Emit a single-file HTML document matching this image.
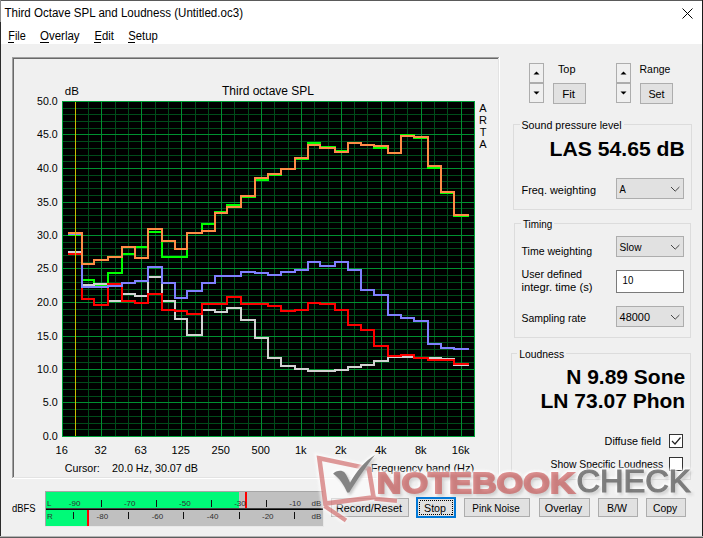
<!DOCTYPE html>
<html><head><meta charset="utf-8"><title>Third Octave SPL and Loudness</title>
<style>
html,body{margin:0;padding:0;background:#f0f0f0;overflow:hidden}
body{width:703px;height:538px;font-family:"Liberation Sans",sans-serif}
svg{display:block;position:absolute;left:0;top:0;font-family:"Liberation Sans",sans-serif}
svg rect{shape-rendering:crispEdges}
</style></head><body>
<svg width="703" height="538" viewBox="0 0 703 538" font-family="Liberation Sans, sans-serif">
<rect x="0" y="0" width="703" height="538" fill="#f0f0f0" />
<rect x="0" y="0" width="703" height="44" fill="#ffffff" />
<rect x="0" y="0" width="703" height="1" fill="#5a5a5a" />
<rect x="0" y="0" width="1" height="22" fill="#8a8a8a" />
<rect x="0" y="22" width="1" height="516" fill="#2b2b2b" />
<rect x="702" y="0" width="1" height="538" fill="#1a1a1a" />
<rect x="0" y="537" width="703" height="1" fill="#5c5c5c" />
<rect x="0" y="536" width="703" height="1" fill="#b4b4b4" />
<text x="4.4" y="17" font-size="12" textLength="238.6" lengthAdjust="spacingAndGlyphs" fill="#000" >Third Octave SPL and Loudness (Untitled.oc3)</text>
<path d="M682.5 8.5 L692.5 18.5 M692.5 8.5 L682.5 18.5" stroke="#000" stroke-width="1" fill="none"/>
<text x="8.3" y="40" font-size="12" textLength="17.5" lengthAdjust="spacingAndGlyphs" fill="#000" >File</text>
<rect x="8.3" y="41.5" width="5.7" height="1" fill="#000" />
<text x="40" y="40" font-size="12" textLength="39.6" lengthAdjust="spacingAndGlyphs" fill="#000" >Overlay</text>
<rect x="40" y="41.5" width="9" height="1" fill="#000" />
<text x="94.4" y="40" font-size="12" textLength="19.5" lengthAdjust="spacingAndGlyphs" fill="#000" >Edit</text>
<rect x="94.4" y="41.5" width="6.1" height="1" fill="#000" />
<text x="128.2" y="40" font-size="12" textLength="29.5" lengthAdjust="spacingAndGlyphs" fill="#000" >Setup</text>
<rect x="128.2" y="41.5" width="7.0" height="1" fill="#000" />
<rect x="12" y="57" width="487" height="1" fill="#a0a0a0" />
<rect x="12" y="57" width="1" height="421" fill="#a0a0a0" />
<rect x="13" y="58" width="485" height="1" fill="#696969" />
<rect x="13" y="58" width="1" height="419" fill="#696969" />
<rect x="12" y="478" width="488" height="1" fill="#ffffff" />
<rect x="499" y="57" width="1" height="422" fill="#ffffff" />
<rect x="13" y="477" width="486" height="1" fill="#e3e3e3" />
<rect x="498" y="58" width="1" height="420" fill="#e3e3e3" />
<rect x="62" y="101" width="413" height="336" fill="#000" />
<rect x="62" y="429" width="413" height="1" fill="#004c1a" />
<rect x="62" y="423" width="413" height="1" fill="#004c1a" />
<rect x="62" y="416" width="413" height="1" fill="#004c1a" />
<rect x="62" y="409" width="413" height="1" fill="#004c1a" />
<rect x="62" y="396" width="413" height="1" fill="#004c1a" />
<rect x="62" y="389" width="413" height="1" fill="#004c1a" />
<rect x="62" y="382" width="413" height="1" fill="#004c1a" />
<rect x="62" y="376" width="413" height="1" fill="#004c1a" />
<rect x="62" y="362" width="413" height="1" fill="#004c1a" />
<rect x="62" y="356" width="413" height="1" fill="#004c1a" />
<rect x="62" y="349" width="413" height="1" fill="#004c1a" />
<rect x="62" y="342" width="413" height="1" fill="#004c1a" />
<rect x="62" y="329" width="413" height="1" fill="#004c1a" />
<rect x="62" y="322" width="413" height="1" fill="#004c1a" />
<rect x="62" y="315" width="413" height="1" fill="#004c1a" />
<rect x="62" y="309" width="413" height="1" fill="#004c1a" />
<rect x="62" y="295" width="413" height="1" fill="#004c1a" />
<rect x="62" y="289" width="413" height="1" fill="#004c1a" />
<rect x="62" y="282" width="413" height="1" fill="#004c1a" />
<rect x="62" y="275" width="413" height="1" fill="#004c1a" />
<rect x="62" y="262" width="413" height="1" fill="#004c1a" />
<rect x="62" y="255" width="413" height="1" fill="#004c1a" />
<rect x="62" y="248" width="413" height="1" fill="#004c1a" />
<rect x="62" y="242" width="413" height="1" fill="#004c1a" />
<rect x="62" y="228" width="413" height="1" fill="#004c1a" />
<rect x="62" y="222" width="413" height="1" fill="#004c1a" />
<rect x="62" y="215" width="413" height="1" fill="#004c1a" />
<rect x="62" y="208" width="413" height="1" fill="#004c1a" />
<rect x="62" y="195" width="413" height="1" fill="#004c1a" />
<rect x="62" y="188" width="413" height="1" fill="#004c1a" />
<rect x="62" y="181" width="413" height="1" fill="#004c1a" />
<rect x="62" y="175" width="413" height="1" fill="#004c1a" />
<rect x="62" y="161" width="413" height="1" fill="#004c1a" />
<rect x="62" y="155" width="413" height="1" fill="#004c1a" />
<rect x="62" y="148" width="413" height="1" fill="#004c1a" />
<rect x="62" y="141" width="413" height="1" fill="#004c1a" />
<rect x="62" y="128" width="413" height="1" fill="#004c1a" />
<rect x="62" y="121" width="413" height="1" fill="#004c1a" />
<rect x="62" y="114" width="413" height="1" fill="#004c1a" />
<rect x="62" y="108" width="413" height="1" fill="#004c1a" />
<rect x="75" y="101" width="1" height="336" fill="#004c1a" />
<rect x="88" y="101" width="1" height="336" fill="#004c1a" />
<rect x="115" y="101" width="1" height="336" fill="#004c1a" />
<rect x="128" y="101" width="1" height="336" fill="#004c1a" />
<rect x="155" y="101" width="1" height="336" fill="#004c1a" />
<rect x="168" y="101" width="1" height="336" fill="#004c1a" />
<rect x="195" y="101" width="1" height="336" fill="#004c1a" />
<rect x="208" y="101" width="1" height="336" fill="#004c1a" />
<rect x="234" y="101" width="1" height="336" fill="#004c1a" />
<rect x="248" y="101" width="1" height="336" fill="#004c1a" />
<rect x="274" y="101" width="1" height="336" fill="#004c1a" />
<rect x="288" y="101" width="1" height="336" fill="#004c1a" />
<rect x="314" y="101" width="1" height="336" fill="#004c1a" />
<rect x="328" y="101" width="1" height="336" fill="#004c1a" />
<rect x="354" y="101" width="1" height="336" fill="#004c1a" />
<rect x="367" y="101" width="1" height="336" fill="#004c1a" />
<rect x="394" y="101" width="1" height="336" fill="#004c1a" />
<rect x="407" y="101" width="1" height="336" fill="#004c1a" />
<rect x="434" y="101" width="1" height="336" fill="#004c1a" />
<rect x="447" y="101" width="1" height="336" fill="#004c1a" />
<rect x="62" y="436" width="413" height="1" fill="#009030" />
<rect x="62" y="402" width="413" height="1" fill="#009030" />
<rect x="62" y="369" width="413" height="1" fill="#009030" />
<rect x="62" y="336" width="413" height="1" fill="#009030" />
<rect x="62" y="302" width="413" height="1" fill="#009030" />
<rect x="62" y="268" width="413" height="1" fill="#009030" />
<rect x="62" y="235" width="413" height="1" fill="#009030" />
<rect x="62" y="202" width="413" height="1" fill="#009030" />
<rect x="62" y="168" width="413" height="1" fill="#009030" />
<rect x="62" y="134" width="413" height="1" fill="#009030" />
<rect x="62" y="101" width="413" height="1" fill="#009030" />
<rect x="101" y="101" width="1" height="336" fill="#009030" />
<rect x="141" y="101" width="1" height="336" fill="#009030" />
<rect x="181" y="101" width="1" height="336" fill="#009030" />
<rect x="221" y="101" width="1" height="336" fill="#009030" />
<rect x="261" y="101" width="1" height="336" fill="#009030" />
<rect x="301" y="101" width="1" height="336" fill="#009030" />
<rect x="341" y="101" width="1" height="336" fill="#009030" />
<rect x="381" y="101" width="1" height="336" fill="#009030" />
<rect x="421" y="101" width="1" height="336" fill="#009030" />
<rect x="461" y="101" width="1" height="336" fill="#009030" />
<rect x="62" y="101" width="413" height="1" fill="#00a038" />
<rect x="62" y="436" width="413" height="1" fill="#00a038" />
<rect x="62" y="101" width="1" height="336" fill="#00a038" />
<rect x="474" y="101" width="1" height="336" fill="#00a038" />
<path d="M68 235 L82 235 L82 280 L94 280 L94 285 L108 285 L108 273 L122 273 L122 254 L135 254 L135 247 L148 247 L148 232 L162 232 L162 257 L175 257 L175 257 L187 257 L187 233 L202 233 L202 224 L215 224 L215 212 L227 212 L227 205 L241 205 L241 197 L255 197 L255 180 L268 180 L268 175 L281 175 L281 169 L295 169 L295 159 L308 159 L308 143 L320 143 L320 147 L335 147 L335 151 L348 151 L348 143 L361 143 L361 145 L374 145 L374 148 L388 148 L388 153 L401 153 L401 135 L414 135 L414 138 L428 138 L428 168 L441 168 L441 193 L454 193 L454 216 L469 216" fill="none" stroke="#00ff00" stroke-width="2" stroke-linejoin="miter" stroke-linecap="butt" shape-rendering="crispEdges"/>
<path d="M68 252 L82 252 L82 285 L94 285 L94 284 L108 284 L108 301 L122 301 L122 294 L135 294 L135 296 L148 296 L148 277 L162 277 L162 301 L175 301 L175 319 L187 319 L187 335 L202 335 L202 310 L215 310 L215 312 L227 312 L227 308 L241 308 L241 320 L255 320 L255 338 L268 338 L268 358 L281 358 L281 366 L295 366 L295 369 L308 369 L308 371 L320 371 L320 371 L335 371 L335 370 L348 370 L348 367 L361 367 L361 365 L374 365 L374 361 L388 361 L388 357 L401 357 L401 357 L414 357 L414 358 L428 358 L428 358 L441 358 L441 359 L454 359 L454 365 L469 365" fill="none" stroke="#d2d2d2" stroke-width="2" stroke-linejoin="miter" stroke-linecap="butt" shape-rendering="crispEdges"/>
<path d="M68 254 L82 254 L82 299 L94 299 L94 305 L108 305 L108 284 L122 284 L122 301 L135 301 L135 303 L148 303 L148 294 L162 294 L162 310 L175 310 L175 311 L187 311 L187 314 L202 314 L202 304 L215 304 L215 304 L227 304 L227 297 L241 297 L241 304 L255 304 L255 304 L268 304 L268 306 L281 306 L281 311 L295 311 L295 310 L308 310 L308 303 L320 303 L320 304 L335 304 L335 310 L348 310 L348 325 L361 325 L361 330 L374 330 L374 346 L388 346 L388 356 L401 356 L401 355 L414 355 L414 358 L428 358 L428 360 L441 360 L441 360 L454 360 L454 364 L469 364" fill="none" stroke="#ff0000" stroke-width="2" stroke-linejoin="miter" stroke-linecap="butt" shape-rendering="crispEdges"/>
<path d="M68 234 L82 234 L82 287 L94 287 L94 287 L108 287 L108 286 L122 286 L122 283 L135 283 L135 281 L148 281 L148 267 L162 267 L162 283 L175 283 L175 298 L187 298 L187 291 L202 291 L202 283 L215 283 L215 276 L227 276 L227 276 L241 276 L241 272 L255 272 L255 273 L268 273 L268 275 L281 275 L281 272 L295 272 L295 270 L308 270 L308 262 L320 262 L320 266 L335 266 L335 262 L348 262 L348 270 L361 270 L361 290 L374 290 L374 295 L388 295 L388 315 L401 315 L401 318 L414 318 L414 321 L428 321 L428 344 L441 344 L441 348 L454 348 L454 349 L469 349" fill="none" stroke="#8080ff" stroke-width="2" stroke-linejoin="miter" stroke-linecap="butt" shape-rendering="crispEdges"/>
<path d="M68 233 L82 233 L82 264 L94 264 L94 260 L108 260 L108 257 L122 257 L122 247 L135 247 L135 258 L148 258 L148 229 L162 229 L162 241 L175 241 L175 249 L187 249 L187 233 L202 233 L202 231 L215 231 L215 213 L227 213 L227 207 L241 207 L241 196 L255 196 L255 178 L268 178 L268 174 L281 174 L281 169 L295 169 L295 158 L308 158 L308 145 L320 145 L320 148 L335 148 L335 152 L348 152 L348 143 L361 143 L361 145 L374 145 L374 146 L388 146 L388 153 L401 153 L401 136 L414 136 L414 137 L428 137 L428 166 L441 166 L441 192 L454 192 L454 215 L469 215" fill="none" stroke="#ff8c46" stroke-width="2" stroke-linejoin="miter" stroke-linecap="butt" shape-rendering="crispEdges"/>
<rect x="75" y="102" width="1" height="334" fill="#c8be00" />
<text x="64.8" y="94.7" font-size="11.5" fill="#000" >dB</text>
<text x="268" y="95" font-size="12" text-anchor="middle" fill="#000" >Third octave SPL</text>
<text x="57.7" y="440" font-size="11" text-anchor="end" textLength="15" lengthAdjust="spacingAndGlyphs" fill="#000" >0.0</text>
<text x="57.7" y="406" font-size="11" text-anchor="end" textLength="15" lengthAdjust="spacingAndGlyphs" fill="#000" >5.0</text>
<text x="57.7" y="373" font-size="11" text-anchor="end" textLength="20.6" lengthAdjust="spacingAndGlyphs" fill="#000" >10.0</text>
<text x="57.7" y="340" font-size="11" text-anchor="end" textLength="20.6" lengthAdjust="spacingAndGlyphs" fill="#000" >15.0</text>
<text x="57.7" y="306" font-size="11" text-anchor="end" textLength="20.6" lengthAdjust="spacingAndGlyphs" fill="#000" >20.0</text>
<text x="57.7" y="272" font-size="11" text-anchor="end" textLength="20.6" lengthAdjust="spacingAndGlyphs" fill="#000" >25.0</text>
<text x="57.7" y="239" font-size="11" text-anchor="end" textLength="20.6" lengthAdjust="spacingAndGlyphs" fill="#000" >30.0</text>
<text x="57.7" y="206" font-size="11" text-anchor="end" textLength="20.6" lengthAdjust="spacingAndGlyphs" fill="#000" >35.0</text>
<text x="57.7" y="172" font-size="11" text-anchor="end" textLength="20.6" lengthAdjust="spacingAndGlyphs" fill="#000" >40.0</text>
<text x="57.7" y="138" font-size="11" text-anchor="end" textLength="20.6" lengthAdjust="spacingAndGlyphs" fill="#000" >45.0</text>
<text x="57.7" y="105" font-size="11" text-anchor="end" textLength="20.6" lengthAdjust="spacingAndGlyphs" fill="#000" >50.0</text>
<text x="61.7" y="453.5" font-size="11" text-anchor="middle" fill="#000" >16</text>
<text x="100.7" y="453.5" font-size="11" text-anchor="middle" fill="#000" >32</text>
<text x="140.7" y="453.5" font-size="11" text-anchor="middle" fill="#000" >63</text>
<text x="180.7" y="453.5" font-size="11" text-anchor="middle" fill="#000" >125</text>
<text x="220.7" y="453.5" font-size="11" text-anchor="middle" fill="#000" >250</text>
<text x="260.7" y="453.5" font-size="11" text-anchor="middle" fill="#000" >500</text>
<text x="300.7" y="453.5" font-size="11" text-anchor="middle" fill="#000" >1k</text>
<text x="340.7" y="453.5" font-size="11" text-anchor="middle" fill="#000" >2k</text>
<text x="380.7" y="453.5" font-size="11" text-anchor="middle" fill="#000" >4k</text>
<text x="420.7" y="453.5" font-size="11" text-anchor="middle" fill="#000" >8k</text>
<text x="460.7" y="453.5" font-size="11" text-anchor="middle" fill="#000" >16k</text>
<text x="64.8" y="472" font-size="11" textLength="35" lengthAdjust="spacingAndGlyphs" fill="#000" >Cursor:</text>
<text x="112" y="472" font-size="11" textLength="85.9" lengthAdjust="spacingAndGlyphs" fill="#000" >20.0 Hz, 30.07 dB</text>
<text x="474.2" y="471.5" font-size="11" text-anchor="end" fill="#000" >Frequency band (Hz)</text>
<text x="483" y="111.7" font-size="11" text-anchor="middle" fill="#000" >A</text>
<text x="483" y="123.7" font-size="11" text-anchor="middle" fill="#000" >R</text>
<text x="483" y="135.7" font-size="11" text-anchor="middle" fill="#000" >T</text>
<text x="483" y="147.7" font-size="11" text-anchor="middle" fill="#000" >A</text>
<rect x="529" y="63" width="15" height="20" fill="#adadad" />
<rect x="530" y="64" width="13" height="18" fill="#f0f0f0" />
<path d="M533.5 74.5 L539.5 74.5 L536.5 71.5 Z" fill="#000"/>
<rect x="529" y="83" width="15" height="20" fill="#adadad" />
<rect x="530" y="84" width="13" height="18" fill="#f0f0f0" />
<path d="M533.5 91.5 L539.5 91.5 L536.5 94.5 Z" fill="#000"/>
<rect x="616" y="63" width="15" height="20" fill="#adadad" />
<rect x="617" y="64" width="13" height="18" fill="#f0f0f0" />
<path d="M620.5 74.5 L626.5 74.5 L623.5 71.5 Z" fill="#000"/>
<rect x="616" y="83" width="15" height="20" fill="#adadad" />
<rect x="617" y="84" width="13" height="18" fill="#f0f0f0" />
<path d="M620.5 91.5 L626.5 91.5 L623.5 94.5 Z" fill="#000"/>
<text x="557.9" y="73.4" font-size="11.2" textLength="17.6" lengthAdjust="spacingAndGlyphs" fill="#000" >Top</text>
<text x="639.6" y="73.4" font-size="11.2" textLength="30.7" lengthAdjust="spacingAndGlyphs" fill="#000" >Range</text>
<rect x="553" y="83" width="33" height="21" fill="#adadad" />
<rect x="554" y="84" width="31" height="19" fill="#e1e1e1" />
<text x="568.6" y="98.2" font-size="11.2" text-anchor="middle" textLength="12.9" lengthAdjust="spacingAndGlyphs" fill="#000" >Fit</text>
<rect x="640" y="83" width="33" height="21" fill="#adadad" />
<rect x="641" y="84" width="31" height="19" fill="#e1e1e1" />
<text x="656.5" y="98.2" font-size="11.2" text-anchor="middle" textLength="16.2" lengthAdjust="spacingAndGlyphs" fill="#000" >Set</text>
<rect x="513.5" y="124.5" width="178" height="85" fill="none" stroke="#dcdcdc" stroke-width="1"/>
<rect x="519.5" y="123" width="104.10000000000002" height="3" fill="#f0f0f0" />
<text x="521.5" y="129.1" font-size="11.2" textLength="100.1" lengthAdjust="spacingAndGlyphs" fill="#000" >Sound pressure level</text>
<text x="684.8" y="155.5" font-size="21" text-anchor="end" textLength="135.2" lengthAdjust="spacingAndGlyphs" font-weight="bold" fill="#000" >LAS 54.65 dB</text>
<text x="521.5" y="193.7" font-size="11.2" textLength="74.5" lengthAdjust="spacingAndGlyphs" fill="#000" >Freq. weighting</text>
<rect x="616" y="178" width="68" height="21" fill="#adadad" />
<rect x="617" y="179" width="66" height="19" fill="#e1e1e1" />
<text x="619.6" y="193.0" font-size="11.2" textLength="6.3" lengthAdjust="spacingAndGlyphs" fill="#000" >A</text>
<path d="M671 187 L675.2 191.2 L679.4 187" fill="none" stroke="#444" stroke-width="1"/>
<rect x="514.5" y="223.5" width="176" height="114" fill="none" stroke="#dcdcdc" stroke-width="1"/>
<rect x="520.9" y="222" width="33.30000000000007" height="3" fill="#f0f0f0" />
<text x="522.9" y="228.2" font-size="11.2" textLength="29.3" lengthAdjust="spacingAndGlyphs" fill="#000" >Timing</text>
<text x="521.5" y="254.6" font-size="11.2" textLength="70.5" lengthAdjust="spacingAndGlyphs" fill="#000" >Time weighting</text>
<rect x="616" y="236" width="68" height="21" fill="#adadad" />
<rect x="617" y="237" width="66" height="19" fill="#e1e1e1" />
<text x="619.6" y="251.29999999999998" font-size="11.2" textLength="21.9" lengthAdjust="spacingAndGlyphs" fill="#000" >Slow</text>
<path d="M671 245 L675.2 249.2 L679.4 245" fill="none" stroke="#444" stroke-width="1"/>
<text x="521.5" y="277.7" font-size="11.2" textLength="60.5" lengthAdjust="spacingAndGlyphs" fill="#000" >User defined</text>
<text x="521.5" y="291.1" font-size="11.2" textLength="71" lengthAdjust="spacingAndGlyphs" fill="#000" >integr. time (s)</text>
<rect x="616" y="270" width="68" height="23" fill="#7a7a7a" />
<rect x="617" y="271" width="66" height="21" fill="#fff" />
<text x="622.5" y="284.0" font-size="11.2" textLength="10.8" lengthAdjust="spacingAndGlyphs" fill="#000" >10</text>
<text x="521.5" y="322.1" font-size="11.2" textLength="64.5" lengthAdjust="spacingAndGlyphs" fill="#000" >Sampling rate</text>
<rect x="616" y="306" width="68" height="21" fill="#adadad" />
<rect x="617" y="307" width="66" height="19" fill="#e1e1e1" />
<text x="619.6" y="320.8" font-size="11.2" textLength="30.4" lengthAdjust="spacingAndGlyphs" fill="#000" >48000</text>
<path d="M671 315 L675.2 319.2 L679.4 315" fill="none" stroke="#444" stroke-width="1"/>
<rect x="511.5" y="353.5" width="179" height="126" fill="none" stroke="#dcdcdc" stroke-width="1"/>
<rect x="517.2" y="352" width="49.0" height="3" fill="#f0f0f0" />
<text x="519.2" y="358.20000000000005" font-size="11.2" textLength="45.0" lengthAdjust="spacingAndGlyphs" fill="#000" >Loudness</text>
<text x="685.2" y="384.1" font-size="21" text-anchor="end" font-weight="bold" fill="#000" >N 9.89 Sone</text>
<text x="685.2" y="407.7" font-size="21" text-anchor="end" font-weight="bold" fill="#000" >LN 73.07 Phon</text>
<text x="604.6" y="445.0" font-size="11.2" textLength="56.3" lengthAdjust="spacingAndGlyphs" fill="#000" >Diffuse field</text>
<rect x="669" y="434" width="14" height="14" fill="#333" />
<rect x="670" y="435" width="12" height="12" fill="#fff" />
<path d="M672 441 L675 444 L680.5 437.5" fill="none" stroke="#222" stroke-width="1.2"/>
<text x="550.5" y="468.1" font-size="11.2" textLength="112.7" lengthAdjust="spacingAndGlyphs" fill="#000" >Show Specific Loudness</text>
<rect x="669" y="457" width="14" height="14" fill="#333" />
<rect x="670" y="458" width="12" height="12" fill="#fff" />
<text x="12" y="511.8" font-size="11.2" textLength="23.5" lengthAdjust="spacingAndGlyphs" fill="#000" >dBFS</text>
<rect x="45" y="491" width="279" height="36" fill="#c0c0c0" />
<rect x="45" y="491" width="279" height="1" fill="#a6a6a6" />
<rect x="45" y="491" width="1" height="36" fill="#a6a6a6" />
<rect x="45" y="526" width="279" height="1" fill="#e8e8e8" />
<rect x="323" y="491" width="1" height="36" fill="#e8e8e8" />
<rect x="46" y="492" width="193" height="16" fill="#00fa78" />
<rect x="46" y="510" width="41" height="16" fill="#00fa78" />
<rect x="46" y="508" width="277" height="1" fill="#404040" />
<rect x="46" y="509" width="277" height="1" fill="#000" />
<rect x="245" y="492" width="2" height="16" fill="#ff0000" />
<rect x="87" y="510" width="2" height="16" fill="#ff0000" />
<text x="47" y="506.2" font-size="8" fill="#303030" >L</text>
<text x="47" y="518.7" font-size="8" fill="#303030" >R</text>
<text x="74.57" y="506.2" font-size="8" text-anchor="middle" fill="#303030" >-90</text>
<rect x="73" y="512" width="1" height="7" fill="#111" />
<text x="129.71" y="506.2" font-size="8" text-anchor="middle" fill="#303030" >-70</text>
<rect x="128" y="512" width="1" height="7" fill="#111" />
<text x="184.85000000000002" y="506.2" font-size="8" text-anchor="middle" fill="#303030" >-50</text>
<rect x="183" y="512" width="1" height="7" fill="#111" />
<text x="239.99" y="506.2" font-size="8" text-anchor="middle" fill="#303030" >-30</text>
<rect x="239" y="512" width="1" height="7" fill="#111" />
<text x="295.13" y="506.2" font-size="8" text-anchor="middle" fill="#303030" >-10</text>
<rect x="294" y="512" width="1" height="7" fill="#111" />
<text x="102.34" y="518.7" font-size="8" text-anchor="middle" fill="#303030" >-80</text>
<rect x="101" y="500" width="1" height="7" fill="#111" />
<text x="157.48" y="518.7" font-size="8" text-anchor="middle" fill="#303030" >-60</text>
<rect x="156" y="500" width="1" height="7" fill="#111" />
<text x="212.62" y="518.7" font-size="8" text-anchor="middle" fill="#303030" >-40</text>
<rect x="211" y="500" width="1" height="7" fill="#111" />
<text x="267.76000000000005" y="518.7" font-size="8" text-anchor="middle" fill="#303030" >-20</text>
<rect x="266" y="500" width="1" height="7" fill="#111" />
<text x="316.5" y="506.2" font-size="8" text-anchor="middle" fill="#303030" >dB</text>
<text x="316.5" y="518.7" font-size="8" text-anchor="middle" fill="#303030" >dB</text>
<rect x="331" y="498" width="78" height="19" fill="#adadad" />
<rect x="332" y="499" width="76" height="17" fill="#e1e1e1" />
<text x="369.0" y="511.59999999999997" font-size="11.2" text-anchor="middle" textLength="66" lengthAdjust="spacingAndGlyphs" fill="#000" >Record/Reset</text>
<rect x="416" y="497" width="40" height="21" fill="#0078d7" />
<rect x="418" y="499" width="36" height="17" fill="#e1e1e1" />
<rect x="419.5" y="500.5" width="33" height="14" fill="none" stroke="#000" stroke-width="1" stroke-dasharray="1 1" shape-rendering="crispEdges"/>
<text x="435.0" y="511.59999999999997" font-size="11.2" text-anchor="middle" textLength="22" lengthAdjust="spacingAndGlyphs" fill="#000" >Stop</text>
<rect x="464" y="498" width="66" height="19" fill="#adadad" />
<rect x="465" y="499" width="64" height="17" fill="#e1e1e1" />
<text x="496.0" y="511.59999999999997" font-size="11.2" text-anchor="middle" textLength="47.3" lengthAdjust="spacingAndGlyphs" fill="#000" >Pink Noise</text>
<rect x="539" y="498" width="51" height="19" fill="#adadad" />
<rect x="540" y="499" width="49" height="17" fill="#e1e1e1" />
<text x="563.5" y="511.59999999999997" font-size="11.2" text-anchor="middle" textLength="37.3" lengthAdjust="spacingAndGlyphs" fill="#000" >Overlay</text>
<rect x="598" y="498" width="40" height="19" fill="#adadad" />
<rect x="599" y="499" width="38" height="17" fill="#e1e1e1" />
<text x="617.0" y="511.59999999999997" font-size="11.2" text-anchor="middle" textLength="20" lengthAdjust="spacingAndGlyphs" fill="#000" >B/W</text>
<rect x="646" y="498" width="40" height="19" fill="#adadad" />
<rect x="647" y="499" width="38" height="17" fill="#e1e1e1" />
<text x="665.0" y="511.59999999999997" font-size="11.2" text-anchor="middle" textLength="24.2" lengthAdjust="spacingAndGlyphs" fill="#000" >Copy</text>
<defs><filter id="glow" x="-10%" y="-40%" width="120%" height="180%"><feGaussianBlur stdDeviation="1.1"/></filter><filter id="shd" x="-10%" y="-40%" width="120%" height="180%"><feGaussianBlur stdDeviation="1.4"/></filter></defs>
<g opacity="0.55" filter="url(#glow)"><path d="M319.3 458.3 L368.8 468.6 L373.6 497.3 L325.4 503.6 Z" fill="#fff" stroke="#fff" stroke-width="9" stroke-linejoin="miter"/><path d="M324.5 506 L346 520.5 M374.5 498.6 L397 500.8" stroke="#fff" stroke-width="8" fill="none"/></g>
<g opacity="0.55"><path d="M319.3 458.3 L368.8 468.6 L373.6 497.3 L325.4 503.6 Z" fill="none" stroke="#c84a4a" stroke-width="4.6" stroke-linejoin="miter"/><path d="M324.5 506 L346 520.5 M374.5 498.6 L397 500.8" stroke="#c84a4a" stroke-width="4.2" fill="none"/></g>
<path d="M333.1 473.7 C335.5 471 341.5 469.3 344.6 472.6 C346.8 475.5 348.6 479.5 350 482.8 C356 472 365 461 374.9 455 C366.5 466 357 480 349.2 492.6 L347.2 492.6 C344 485 339.5 478 333.1 473.7 Z" fill="#fff" stroke="#fff" stroke-width="3.5" opacity="0.8" filter="url(#glow)"/>
<path d="M333.1 473.7 C335.5 471 341.5 469.3 344.6 472.6 C346.8 475.5 348.6 479.5 350 482.8 C356 472 365 461 374.9 455 C366.5 466 357 480 349.2 492.6 L347.2 492.6 C344 485 339.5 478 333.1 473.7 Z" fill="#555" opacity="0.35" transform="translate(1.6 1.8)" filter="url(#shd)"/>
<path d="M333.1 473.7 C335.5 471 341.5 469.3 344.6 472.6 C346.8 475.5 348.6 479.5 350 482.8 C356 472 365 461 374.9 455 C366.5 466 357 480 349.2 492.6 L347.2 492.6 C344 485 339.5 478 333.1 473.7 Z" fill="#848484"/>
<text x="376.7" y="493" font-size="30.2" font-weight="bold" textLength="198" lengthAdjust="spacingAndGlyphs" fill="#fff" stroke="#fff" stroke-width="5.0" stroke-linejoin="round" opacity="0.9" filter="url(#glow)">NOTEBOOK</text>
<text x="376.7" y="493" font-size="30.2" font-weight="bold" textLength="198" lengthAdjust="spacingAndGlyphs" fill="#444" stroke="#444" stroke-width="1.8" opacity="0.25" transform="translate(1.8 2)" filter="url(#shd)">NOTEBOOK</text>
<g opacity="0.6"><text x="376.7" y="493" font-size="30.2" font-weight="bold" textLength="198" lengthAdjust="spacingAndGlyphs" fill="#c84a4a" stroke="#c84a4a" stroke-width="1.8" stroke-linejoin="miter">NOTEBOOK</text></g>
<text x="576.5" y="492.4" font-size="31" textLength="114.1" lengthAdjust="spacingAndGlyphs" fill="#fff" stroke="#fff" stroke-width="4.35" stroke-linejoin="round" opacity="0.9" filter="url(#glow)">CHECK</text>
<text x="576.5" y="492.4" font-size="31" textLength="114.1" lengthAdjust="spacingAndGlyphs" fill="#444" stroke="#444" stroke-width="1.15" opacity="0.25" transform="translate(1.8 2)" filter="url(#shd)">CHECK</text>
<g opacity="0.82"><text x="576.5" y="492.4" font-size="31" textLength="114.1" lengthAdjust="spacingAndGlyphs" fill="#686868" stroke="#686868" stroke-width="1.15" stroke-linejoin="miter">CHECK</text></g>
</svg>
</body></html>
